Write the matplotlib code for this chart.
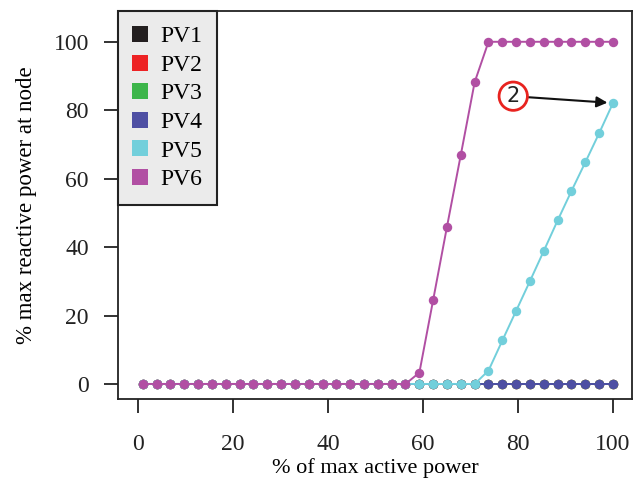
import matplotlib
matplotlib.use("Agg")
import matplotlib.pyplot as plt
from matplotlib.lines import Line2D

# Active power levels (% of max) at which the reactive response was sampled
active_power = [1.00, 3.91, 6.82, 9.74, 12.65, 15.56, 18.47, 21.38, 24.29, 27.21,
                30.12, 33.03, 35.94, 38.85, 41.76, 44.68, 47.59, 50.50, 53.41, 56.32,
                59.24, 62.15, 65.06, 67.97, 70.88, 73.79, 76.71, 79.62, 82.53, 85.44,
                88.35, 91.26, 94.18, 97.09, 100.00]

zeros = [0.0] * 35
pv1 = zeros
pv2 = zeros
pv3 = zeros
pv4 = zeros
pv5 = [0.0] * 25 + [3.9, 12.7, 21.4, 30.1, 38.9, 47.8, 56.4, 64.8, 73.3, 82.1]
pv6 = [0.0] * 20 + [3.3, 24.6, 46.0, 67.0, 88.2] + [100.0] * 10

series_names = ["PV1", "PV2", "PV3", "PV4", "PV5", "PV6"]
series_values = [pv1, pv2, pv3, pv4, pv5, pv6]
series_colors = ["#231f20", "#ed2224", "#3cb54a", "#4e4fa3", "#72cfdb", "#b14fa3"]

x_ticks = [0, 20, 40, 60, 80, 100]
y_ticks = [0, 20, 40, 60, 80, 100]

plt.rcParams["font.family"] = ["Liberation Serif", "DejaVu Serif"]

fig = plt.figure(figsize=(6.43, 4.80), dpi=100)
ax = fig.add_axes([118 / 643, 81 / 480, 514 / 643, 388 / 480])

for vals, col in zip(series_values, series_colors):
    ax.plot(active_power, vals, color=col, lw=1.4, marker="o", ms=6.8,
            markeredgewidth=0, solid_capstyle="round")

ax.set_xlim(-4.2, 104.0)
ax.set_ylim(-4.4, 109.0)
ax.set_xticks(x_ticks)
ax.set_yticks(y_ticks)
ax.tick_params(axis="both", direction="out", length=10, width=1.3,
               labelsize=17, colors="#222222")
ax.tick_params(axis="x", pad=15)
ax.tick_params(axis="y", pad=11)
for s in ax.spines.values():
    s.set_linewidth(1.3)
    s.set_color("#222222")

ax.set_xlabel("% of max active power", fontsize=16)
ax.set_ylabel("% max reactive power at node", fontsize=16.5, labelpad=12)
ax.xaxis.set_label_coords(0.5, -0.153)

handles = [Line2D([], [], linestyle="none", marker="s", ms=11,
                  markerfacecolor=c, markeredgewidth=0) for c in series_colors]
leg = ax.legend(handles, series_names, loc="upper left", fontsize=17,
                frameon=True, fancybox=False,
                handlelength=0.6, handletextpad=0.59, labelspacing=0.3,
                borderpad=0.62, borderaxespad=0)
leg.get_frame().set_facecolor("#ebebeb")
leg.get_frame().set_edgecolor("#222222")
leg.get_frame().set_linewidth(1.5)
leg.get_frame().set_alpha(1)

ax.annotate("2", xy=(active_power[-1], pv5[-1]), xytext=(79.0, 84.1),
            ha="center", va="center", fontsize=15, family="DejaVu Sans",
            color="#222222",
            bbox=dict(boxstyle="circle,pad=0.2", ec="#e8231f", fc="white", lw=2),
            arrowprops=dict(arrowstyle="-|>", color="#111111", lw=1.5,
                            mutation_scale=16, shrinkA=0, shrinkB=4))

fig.savefig("out.png", dpi=100)
